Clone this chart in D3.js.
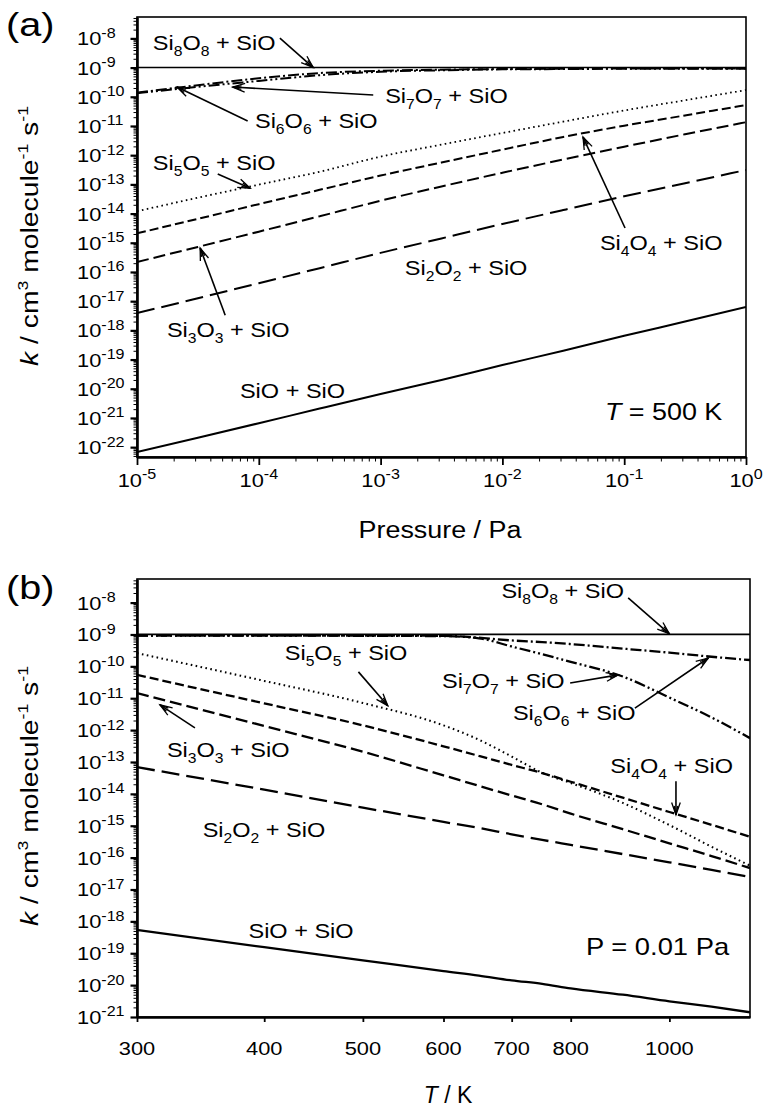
<!DOCTYPE html>
<html>
<head>
<meta charset="utf-8">
<script src="https://cdn.jsdelivr.net/npm/d3@7"></script>
<style>
  body { margin: 0; background: #fff; }
  svg { display: block; font-family: "Liberation Sans", Arial, Helvetica, sans-serif; }
  text { white-space: pre; }
</style>
</head>
<body>
<svg id="chart" width="766" height="1108"></svg>
<script>
// ---- panel (a): T = 500 K, rate constant vs pressure ----
const pressure = [1e-5, 3.16e-5, 1e-4, 3.16e-4, 1e-3, 3.16e-3, 1e-2, 3.16e-2, 0.1, 0.316, 1];
const kP_SiO   = [6.8e-23, 2.1e-22, 6.6e-22, 2.1e-21, 6.6e-21, 2.0e-20, 6.5e-20, 2.0e-19, 6.5e-19, 2.0e-18, 6.3e-18];
const kP_Si2O2 = [3.9e-18, 1.26e-17, 4.1e-17, 1.35e-16, 4.5e-16, 1.41e-15, 4.4e-15, 1.32e-14, 3.9e-14, 1.1e-13, 3.1e-13];
const kP_Si3O3 = [2.2e-16, 7.2e-16, 2.4e-15, 8.1e-15, 2.75e-14, 8.5e-14, 2.5e-13, 7.1e-13, 1.95e-12, 5.2e-12, 1.35e-11];
const kP_Si4O4 = [2.1e-15, 6.6e-15, 2.1e-14, 6.5e-14, 2.0e-13, 5.6e-13, 1.55e-12, 4.2e-12, 1.02e-11, 2.3e-11, 5.2e-11];
const kP_Si5O5 = [1.2e-14, 3.5e-14, 9.8e-14, 2.7e-13, 8.9e-13, 2.3e-12, 5.75e-12, 1.41e-11, 3.4e-11, 7.6e-11, 1.7e-10];
const kP_Si6O6 = [1.38e-10, 2.5e-10, 4.3e-10, 6.5e-10, 7.8e-10, 8.5e-10, 8.9e-10, 9.1e-10, 9.3e-10, 9.3e-10, 9.3e-10];
const kP_Si7O7 = [1.32e-10, 2.2e-10, 3.5e-10, 5.5e-10, 7.2e-10, 8.1e-10, 8.7e-10, 8.9e-10, 9.1e-10, 9.1e-10, 9.1e-10];
const kP_Si8O8 = [1e-9, 1e-9, 1e-9, 1e-9, 1e-9, 1e-9, 1e-9, 1e-9, 1e-9, 1e-9, 1e-9];
const pressureTicks = [1e-5, 1e-4, 1e-3, 1e-2, 1e-1, 1];

// ---- panel (b): P = 0.01 Pa, rate constant vs temperature ----
const temperature = [300, 400, 500, 600, 650, 700, 750, 800, 900, 1000, 1100, 1200];
const kT_SiO   = [5.4e-19, 1.55e-19, 6.0e-20, 2.75e-20, 2.0e-20, 1.41e-20, 1.1e-20, 7.9e-21, 5.0e-21, 3.1e-21, 2.1e-21, 1.41e-21];
const kT_Si2O2 = [6.9e-14, 1.35e-14, 3.7e-15, 1.32e-15, 8.5e-16, 5.4e-16, 3.6e-16, 2.5e-16, 1.29e-16, 7.1e-17, 4.1e-17, 2.45e-17];
const kT_Si3O3 = [1.45e-11, 1.35e-12, 2.1e-13, 3.8e-14, 1.78e-14, 8.9e-15, 4.7e-15, 2.4e-15, 7.8e-16, 2.8e-16, 1.12e-16, 4.7e-17];
const kT_Si4O4 = [5.4e-11, 6.9e-12, 1.41e-12, 3.1e-13, 1.55e-13, 8.1e-14, 4.5e-14, 2.4e-14, 7.6e-15, 2.7e-15, 1.07e-15, 4.5e-16];
const kT_Si5O5 = [2.6e-10, 3.5e-11, 7.1e-12, 1.41e-12, 5.0e-13, 1.48e-13, 4.6e-14, 2.2e-14, 5.2e-15, 1.05e-15, 2.2e-16, 5.6e-17];
const kT_Si6O6 = [9.3e-10, 9.3e-10, 9.3e-10, 9.1e-10, 7.9e-10, 6.5e-10, 5.75e-10, 5.0e-10, 3.6e-10, 2.7e-10, 2.0e-10, 1.58e-10];
const kT_Si7O7 = [9.3e-10, 9.3e-10, 9.1e-10, 8.9e-10, 7.6e-10, 4.2e-10, 2.4e-10, 1.38e-10, 4.8e-11, 1.05e-11, 2.5e-12, 5.6e-13];
const kT_Si8O8 = [1e-9, 1e-9, 1e-9, 1e-9, 1e-9, 1e-9, 1e-9, 1e-9, 1e-9, 1e-9, 1e-9, 1e-9];
const temperatureTicks = [300, 400, 500, 600, 700, 800, 1000];

// line styles per reaction
const styles = {
  SiO:   { dash: null,               width: 2 },
  Si2O2: { dash: '18,7',             width: 2 },
  Si3O3: { dash: '12,5',             width: 2 },
  Si4O4: { dash: '9,4',              width: 2 },
  Si5O5: { dash: '1.6,3.4',          width: 1.8 },
  Si6O6: { dash: '11,3,2,3',         width: 2 },
  Si7O7: { dash: '11,3,2,3,2,3',     width: 2 },
  Si8O8: { dash: null,               width: 1.5 }
};

const svg = d3.select('#chart');

// text with sub/superscripts, stretched along its baseline
function richText(parent, px, py, parts, o) {
  const g = parent.append('g')
    .attr('transform', `translate(${px},${py}) rotate(${o.rotate || 0}) scale(${o.sx || 1},1)`);
  const t = g.append('text')
    .attr('font-size', o.size)
    .attr('text-anchor', o.anchor || 'start')
    .attr('fill', '#000');
  let shift = 0;
  parts.forEach(p => {
    const small = p.sub || p.sup;
    const target = p.sub ? o.size * 0.3 : p.sup ? -o.size * 0.4 : 0;
    t.append('tspan')
      .attr('font-size', small ? (o.small || o.size * 0.68) : o.size)
      .attr('dy', target - shift)
      .attr('font-style', p.it ? 'italic' : null)
      .text(p.t);
    shift = target;
  });
  return g;
}

const chem = n => n === 1
  ? [{ t: 'SiO + SiO' }]
  : [{ t: 'Si' }, { t: String(n), sub: true }, { t: 'O' }, { t: String(n), sub: true }, { t: ' + SiO' }];

const kTitle = [{ t: 'k', it: true }, { t: ' / cm' }, { t: '3', sup: true },
  { t: ' molecule' }, { t: '-1', sup: true }, { t: ' s' }, { t: '-1', sup: true }];

const isDecade = d => Math.abs(Math.log10(d) - Math.round(Math.log10(d))) < 1e-6;

function arrow(g, x, y, from, to) {
  const ax = x(from[0]), ay = y(from[1]), bx = x(to[0]), by = y(to[1]);
  const ang = Math.atan2(by - ay, bx - ax);
  g.append('line')
    .attr('x1', ax).attr('y1', ay).attr('x2', bx).attr('y2', by)
    .attr('stroke', '#000').attr('stroke-width', 1.6);
  [[13, 0.34], [9, 0.2]].forEach(([L, s]) => {
    const p1 = [bx - L * Math.cos(ang - s), by - L * Math.sin(ang - s)];
    const p2 = [bx - L * Math.cos(ang + s), by - L * Math.sin(ang + s)];
    g.append('path')
      .attr('d', `M${p1[0]},${p1[1]}L${bx},${by}L${p2[0]},${p2[1]}`)
      .attr('fill', 'none').attr('stroke', '#000').attr('stroke-width', 1.3);
  });
}

function drawPanel(cfg) {
  const { x, y, xs, series } = cfg;
  const [x0, x1] = x.range();
  const [yb, yt] = y.range();
  const g = svg.append('g');

  g.append('clipPath').attr('id', cfg.id + '-clip')
    .append('rect').attr('x', x0).attr('y', yt).attr('width', x1 - x0).attr('height', yb - yt);

  // frame
  g.append('rect')
    .attr('x', x0).attr('y', yt).attr('width', x1 - x0).attr('height', yb - yt)
    .attr('fill', 'none').attr('stroke', '#000').attr('stroke-width', 1.6);

  // curves
  const line = d3.line()
    .x(d => x(d[0]))
    .y(d => y(d[1]))
    .curve(d3.curveMonotoneX);

  g.append('g').attr('clip-path', `url(#${cfg.id}-clip)`)
    .selectAll('path')
    .data(series)
    .join('path')
    .attr('d', s => line(xs.map((v, i) => [v, s.values[i]])))
    .attr('fill', 'none')
    .attr('stroke', '#000')
    .attr('stroke-width', s => styles[s.name].width * (cfg.thick || 1))
    .attr('stroke-dasharray', s => styles[s.name].dash);

  // y axis: minor + major ticks (log ticks 1..9 per decade)
  const all = y.ticks(20);
  const yMajor = all.filter(isDecade);
  const yMinor = all.filter(d => !isDecade(d));

  g.append('g').attr('transform', `translate(${x0},0)`)
    .call(d3.axisLeft(y).tickValues(yMinor).tickSize(3.5).tickSizeOuter(0).tickFormat(''))
    .call(a => a.select('.domain').attr('stroke-width', 2.6));
  g.append('g').attr('transform', `translate(${x0},0)`)
    .call(d3.axisLeft(y).tickValues(yMajor).tickSize(6.5).tickSizeOuter(0).tickFormat(''))
    .call(a => a.selectAll('line').attr('stroke-width', 2.2))
    .call(a => a.select('.domain').remove());

  yMajor.forEach(d => {
    richText(g, 77, y(d) + 7, [{ t: '10' }, { t: String(Math.round(Math.log10(d))), sup: true }],
      { size: 19, small: 14, sx: 1.15 });
  });

  // x axis
  g.append('g').attr('transform', `translate(0,${yb})`)
    .call(d3.axisBottom(x).tickValues(cfg.xMinor).tickSize(4.5).tickSizeOuter(0).tickFormat(''))
    .call(a => a.select('.domain').attr('stroke-width', 2.6));
  g.append('g').attr('transform', `translate(0,${yb})`)
    .call(d3.axisBottom(x).tickValues(cfg.xMajor).tickSize(cfg.xMajorSize).tickSizeOuter(0).tickFormat(''))
    .call(a => a.selectAll('line').attr('stroke-width', 1.8))
    .call(a => a.select('.domain').remove());

  cfg.xMajor.forEach(d => {
    richText(g, x(d), cfg.xLabelY, cfg.xLabel(d), { size: 19, small: 14, sx: 1.15, anchor: 'middle' });
  });

  // titles
  richText(g, 38, cfg.yTitleY, kTitle, { size: 24, small: 15, sx: 1.18, anchor: 'middle', rotate: -90 });
  richText(g, cfg.xTitle.x, cfg.xTitle.y, cfg.xTitle.parts, { size: 23, sx: cfg.xTitle.sx, anchor: 'middle' });
  richText(g, 6, cfg.tagY, [{ t: cfg.tag }], { size: 33, sx: 1.2 });

  // annotations
  cfg.labels.forEach(l => {
    richText(g, x(l.at[0]), y(l.at[1]), l.parts, { size: l.size || 21, small: 14, sx: l.sx || 1.12 });
    if (l.from) arrow(g, x, y, l.from, l.to);
  });
}

// panel (a)
const xA = d3.scaleLog().domain([1e-5, 1]).range([137, 746]);
const yA = d3.scaleLog().domain([4.6e-23, 5.4e-8]).range([457, 17]);
const xMinorA = xA.ticks(10).filter(d => !isDecade(d));

drawPanel({
  id: 'pa', x: xA, y: yA, xs: pressure,
  series: [
    { name: 'SiO', values: kP_SiO }, { name: 'Si2O2', values: kP_Si2O2 },
    { name: 'Si3O3', values: kP_Si3O3 }, { name: 'Si4O4', values: kP_Si4O4 },
    { name: 'Si5O5', values: kP_Si5O5 }, { name: 'Si6O6', values: kP_Si6O6 },
    { name: 'Si7O7', values: kP_Si7O7 }, { name: 'Si8O8', values: kP_Si8O8 }
  ],
  xMajor: pressureTicks, xMinor: xMinorA, xMajorSize: 8, xLabelY: 487,
  xLabel: d => [{ t: '10' }, { t: String(Math.round(Math.log10(d))), sup: true }],
  yTitleY: 236,
  xTitle: { x: 440, y: 538, sx: 1.17, parts: [{ t: 'Pressure / Pa' }] },
  tag: '(a)', tagY: 36,
  labels: [
    { parts: chem(8), at: [1.35e-5, 4.0e-9], from: [1.49e-4, 1.02e-8], to: [2.8e-4, 1.0e-9] },
    { parts: chem(7), at: [1.09e-3, 6.1e-11], from: [8.7e-4, 1.15e-10], to: [6.1e-5, 2.15e-10] },
    { parts: chem(6), at: [9.3e-5, 8.5e-12], from: [8.1e-5, 1.48e-11], to: [2.13e-5, 2.15e-10] },
    { parts: chem(5), at: [1.35e-5, 3.1e-13], from: [4.6e-5, 2.25e-13], to: [8.5e-5, 7.4e-14] },
    { parts: chem(4), at: [0.0632, 5.6e-16], from: [0.1016, 3.2e-15], to: [0.0459, 4.17e-12] },
    { parts: chem(2), at: [1.58e-3, 7.8e-17] },
    { parts: chem(3), at: [1.76e-5, 5.9e-19], from: [5.3e-5, 3.3e-18], to: [3.3e-5, 6.6e-16] },
    { parts: chem(1), at: [7.0e-5, 4.8e-21] },
    { parts: [{ t: 'T', it: true }, { t: ' = 500 K' }], at: [0.0695, 8.5e-22], size: 23, sx: 1.17 }
  ]
});

// panel (b)
const xB = d3.scaleLog().domain([300, 1200]).range([137, 750]);
const yB = d3.scaleLog().domain([1e-21, 5.5e-8]).range([1017, 579]);

drawPanel({
  id: 'pb', x: xB, y: yB, xs: temperature, thick: 1.15,
  series: [
    { name: 'SiO', values: kT_SiO }, { name: 'Si2O2', values: kT_Si2O2 },
    { name: 'Si3O3', values: kT_Si3O3 }, { name: 'Si4O4', values: kT_Si4O4 },
    { name: 'Si5O5', values: kT_Si5O5 }, { name: 'Si6O6', values: kT_Si6O6 },
    { name: 'Si7O7', values: kT_Si7O7 }, { name: 'Si8O8', values: kT_Si8O8 }
  ],
  xMajor: temperatureTicks, xMinor: [], xMajorSize: 5, xLabelY: 1055,
  xLabel: d => [{ t: String(d) }],
  yTitleY: 796,
  xTitle: { x: 448, y: 1103, sx: 1.0, parts: [{ t: 'T', it: true }, { t: ' / K' }] },
  tag: '(b)', tagY: 599,
  labels: [
    { parts: chem(8), at: [684, 1.4e-8], from: [911, 1.4e-8], to: [1000, 1.05e-9] },
    { parts: chem(5), at: [419, 1.58e-10], from: [495, 6.7e-11], to: [529, 5.8e-12] },
    { parts: chem(7), at: [598, 2.1e-11], from: [799, 3.0e-11], to: [891, 5.4e-11] },
    { parts: chem(6), at: [702, 2.1e-12], from: [925, 4.9e-12], to: [1092, 1.83e-10] },
    { parts: chem(4), at: [875, 4.5e-14], from: [1015, 2.5e-14], to: [1015, 2.2e-15] },
    { parts: chem(3), at: [321, 1.44e-13], from: [342, 1.17e-12], to: [316, 6.2e-12] },
    { parts: chem(2), at: [348, 4.5e-16] },
    { parts: chem(1), at: [386, 3.0e-19] },
    { parts: [{ t: 'P = 0.01 Pa' }], at: [828, 8.8e-20], size: 23, sx: 1.19 }
  ]
});
</script>
</body>
</html>
